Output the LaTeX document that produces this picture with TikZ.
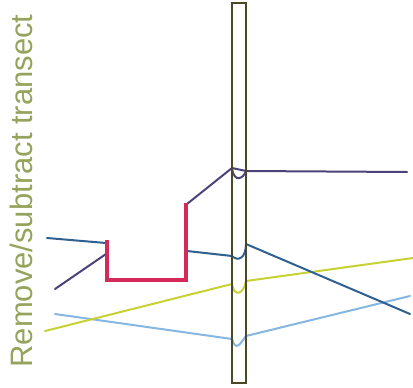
\documentclass[tikz,border=0pt]{standalone}
\usepackage{fontspec}
\setmainfont{Liberation Sans}
\definecolor{pur}{HTML}{4A4278}
\definecolor{stb}{HTML}{2E6090}
\definecolor{ylw}{HTML}{C6D232}
\definecolor{lblue}{HTML}{86B6E2}
\definecolor{redc}{HTML}{D42A5A}
\definecolor{pole}{HTML}{4A4826}
\definecolor{txt}{HTML}{95A35C}
\begin{document}
\begin{tikzpicture}[x=1pt,y=-1pt,
  ln/.style={line width=2pt,line cap=round,line join=round},
  redline/.style={line width=4pt,color=redc,line join=miter},
  polebox/.style={draw=pole,line width=1.6pt,fill=none},
  labeltext/.style={font=\fontsize{31}{31}\selectfont,text=txt,rotate=90,inner sep=0pt}]
\useasboundingbox (0,0) rectangle (413,388);
% coordinates
\coordinate (pA) at (55,289);
\coordinate (pB) at (106,254);
\coordinate (pC) at (187,204);
\coordinate (pD) at (232,168);
\coordinate (pE) at (246,171);
\coordinate (pF) at (407,172);
\coordinate (bA) at (47,238);
\coordinate (bB) at (106,243);
\coordinate (bC) at (187,251);
\coordinate (bD) at (232,256);
\coordinate (bE) at (246,244);
\coordinate (bF) at (410,314);
\coordinate (yA) at (45,331);
\coordinate (yD) at (232,284);
\coordinate (yE) at (246,281);
\coordinate (yF) at (413,258);
\coordinate (lA) at (55,314);
\coordinate (lD) at (232,339);
\coordinate (lE) at (246,336);
\coordinate (lF) at (410,296);
\coordinate (rA) at (107,240);
\coordinate (rB) at (107,280);
\coordinate (rC) at (186,280);
\coordinate (rD) at (186,203);
% lines
\draw[ln,lblue] (lA) -- (lD) .. controls (236,352) and (240,344) .. (lE) -- (lF);
\draw[ln,ylw] (yA) -- (yD) .. controls (234,298) and (244,294) .. (yE) -- (yF);
\draw[ln,stb] (bA) -- (bB);
\draw[ln,stb] (bC) -- (bD) .. controls (238,262) and (246,258) .. (bE) -- (bF);
\draw[ln,pur] (pA) -- (pB);
\draw[ln,pur] (pC) -- (pD) -- (pE) -- (pF);
\draw[ln,pur] (pD) .. controls (234,184) and (244,178) .. (pE);
\draw[redline] (rA) -- (rB) -- (rC) -- (rD);
% pole
\draw[polebox] (232,3) rectangle (246,383);
% label
\node[labeltext] (title) at (21,191) {Remove/subtract transect};
\end{tikzpicture}
\end{document}
